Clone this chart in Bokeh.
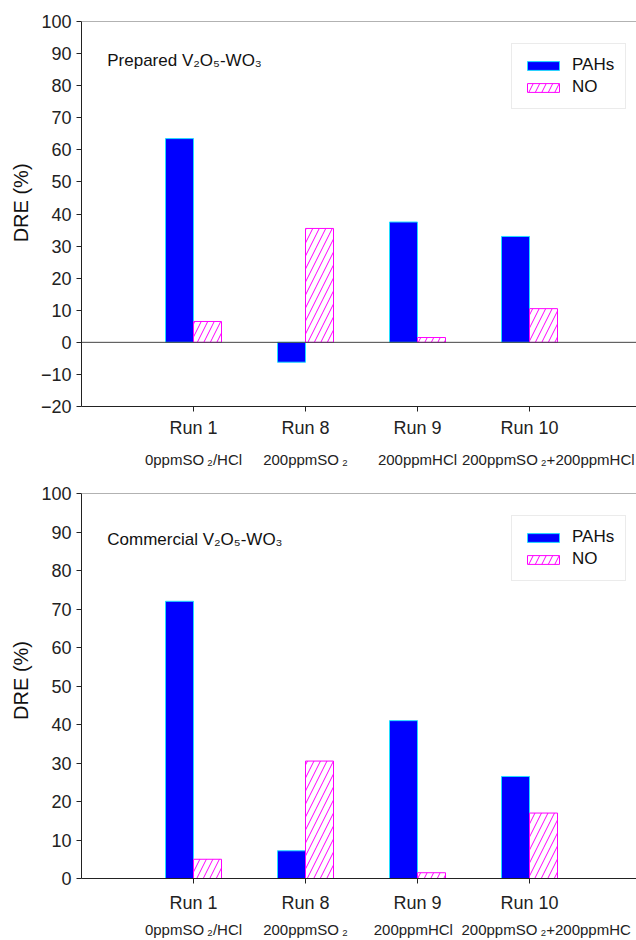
import numpy as np
from bokeh.plotting import figure
from bokeh.layouts import column
from bokeh.models import (ColumnDataSource, Range1d, FixedTicker, LinearAxis, Span,
                          Label, Legend, LegendItem)
from bokeh.embed import file_html
from bokeh.resources import INLINE

# ---- data ----
NB = "\u00a0"
TS = "\u2009"
runs = ["Run 1", "Run 8", "Run 9", "Run 10"]
conditions_top = ["0ppmSO" + TS + "\u2082/HCl", "200ppmSO" + TS + "\u2082", "200ppmHCl",
                  NB * 9 + "200ppmSO" + TS + "\u2082+200ppmHCl"]
conditions_bot = ["0ppmSO" + TS + "\u2082/HCl", "200ppmSO" + TS + "\u2082", "200ppmHCl" + NB * 2,
                  NB * 8 + "200ppmSO" + TS + "\u2082+200ppmHC"]
prepared_pahs = [63.5, -6.2, 37.5, 33.0]
prepared_no = [6.5, 35.5, 1.5, 10.5]
commercial_pahs = [72.0, 7.2, 41.0, 26.5]
commercial_no = [5.0, 30.5, 1.5, 17.0]
y_ticks_top = list(range(-20, 101, 10))
y_ticks_bot = list(range(0, 101, 10))

FONT = "Liberation Sans"
BLUE = "#0000FF"
CYAN = "#22DDFF"
MAGENTA = "#FF00FF"
W = 636
LEFT = 81
STEP = 112


def make_panel(title, pahs, no, conds, ymin, yticks, top_border, bottom_border,
               run_standoff, sub_standoff, ylabel):
    n = len(runs)
    pos = np.arange(1, n + 1)
    p = figure(width=W, height=470,
               x_range=Range1d(0, (W - LEFT) / STEP), y_range=Range1d(ymin, 100),
               output_backend="svg", toolbar_location=None,
               x_axis_location=None, y_axis_location="left",
               min_border_left=LEFT, min_border_right=0,
               min_border_top=top_border, min_border_bottom=bottom_border)
    p.background_fill_color = "white"
    p.border_fill_color = "white"
    p.grid.visible = False
    p.outline_line_color = None

    src = ColumnDataSource(dict(xp=pos - 0.125, xn=pos + 0.125, pahs=pahs, no=no))
    r1 = p.vbar(x="xp", top="pahs", bottom=0, width=0.25, source=src,
                fill_color=BLUE, line_color=CYAN, line_width=1)
    r2 = p.vbar(x="xn", top="no", bottom=0, width=0.25, source=src,
                fill_color="white", line_color=MAGENTA, line_width=1,
                hatch_pattern="/", hatch_color=MAGENTA, hatch_scale=13, hatch_weight=1)

    # top border line
    p.add_layout(Span(location=100, dimension="width", line_color="#666666", line_width=1))
    if ymin < 0:
        p.add_layout(Span(location=0, dimension="width", line_color="#444444", line_width=1))

    # y axis
    ya = p.yaxis[0]
    ya.ticker = FixedTicker(ticks=yticks)
    ya.axis_label = ylabel
    ya.axis_label_text_font = FONT
    ya.axis_label_text_font_size = "20px"
    ya.axis_label_text_font_style = "normal"
    ya.axis_label_text_color = "#111111"
    ya.axis_label_standoff = 6
    ya.major_label_text_font = FONT
    ya.major_label_text_font_size = "18px"
    ya.major_label_text_color = "#222222"
    ya.major_label_standoff = 5
    ya.major_tick_out = 5
    ya.major_tick_in = 0
    ya.minor_tick_out = 0
    ya.minor_tick_in = 0
    ya.axis_line_color = "#222222"
    ya.major_tick_line_color = "#222222"

    # x axis with run names
    xa = LinearAxis(ticker=FixedTicker(ticks=list(pos)),
                    major_label_overrides={int(k): v for k, v in zip(pos, runs)})
    xa.major_label_text_font = FONT
    xa.major_label_text_font_size = "18px"
    xa.major_label_text_color = "#222222"
    xa.major_label_standoff = run_standoff
    xa.major_tick_out = 5
    xa.major_tick_in = 0
    xa.minor_tick_out = 0
    xa.minor_tick_in = 0
    xa.axis_line_color = "#222222"
    xa.major_tick_line_color = "#222222"
    p.add_layout(xa, "below")

    # second axis: conditions
    xb = LinearAxis(ticker=FixedTicker(ticks=list(pos)),
                    major_label_overrides={int(k): v for k, v in zip(pos, conds)})
    xb.major_label_text_font = FONT
    xb.major_label_text_font_size = "15px"
    xb.major_label_text_color = "#222222"
    xb.major_label_standoff = sub_standoff
    xb.axis_line_color = None
    xb.major_tick_line_color = None
    xb.minor_tick_line_color = None
    xb.major_tick_out = 0
    xb.minor_tick_out = 0
    p.add_layout(xb, "below")

    p.add_layout(Label(x=0.23, y=88, text=title,
                       text_font=FONT, text_font_size="17px", text_color="#111111",
                       text_baseline="middle"))

    legend = Legend(items=[LegendItem(label="PAHs", renderers=[r1]),
                           LegendItem(label="NO", renderers=[r2])],
                    location=(430, 297))
    legend.label_text_font = FONT
    legend.label_text_font_size = "17px"
    legend.label_text_color = "#111111"
    legend.glyph_width = 40
    legend.glyph_height = 11
    legend.label_height = 20
    legend.label_standoff = 9
    legend.spacing = 2
    legend.padding = 11
    legend.margin = 0
    legend.border_line_color = "#d8d8d8"
    legend.background_fill_color = "white"
    legend.background_fill_alpha = 1
    p.add_layout(legend)
    return p


p_top = make_panel("Prepared V\u2082O\u2085-WO\u2083", prepared_pahs, prepared_no, conditions_top,
                   -20, y_ticks_top, 21, 64, 6, 10, NB * 4 + "DRE (%)")
p_bot = make_panel("Commercial V\u2082O\u2085-WO\u2083", commercial_pahs, commercial_no, conditions_bot,
                   0, y_ticks_bot, 23, 62, 9, 5, NB * 2 + "DRE (%)")

layout = column(p_top, p_bot, spacing=0)
open("out.html", "w").write(file_html(layout, INLINE))
